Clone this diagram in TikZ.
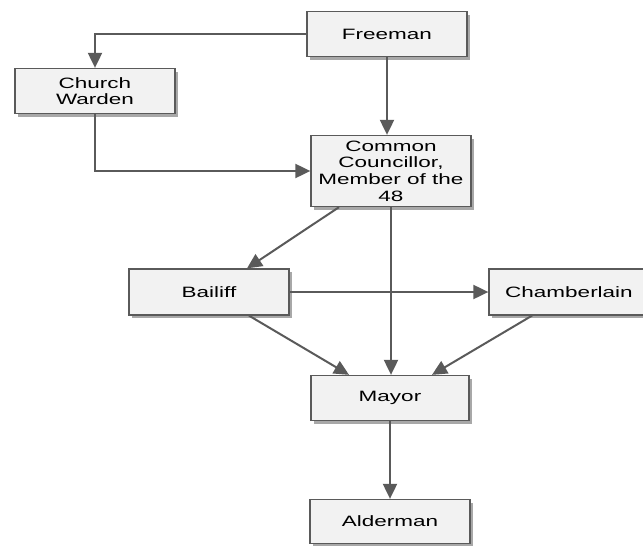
\documentclass[tikz,border=0pt]{standalone}
\usepackage{fontspec}
\usetikzlibrary{arrows.meta,shadows}
\newfontfamily\boxfont[FakeStretch=1.5]{Liberation Sans}
\definecolor{boxgray}{HTML}{F2F2F2}
\definecolor{linegray}{HTML}{5A5A5A}
\definecolor{shadegray}{HTML}{A8A8A8}

\begin{document}
\begin{tikzpicture}[x=1pt,y=1pt,
    office/.style={draw=linegray,line width=1.3pt,fill=boxgray,
        minimum width=160pt,minimum height=45pt,inner sep=0pt,align=center,
        font=\boxfont\fontsize{15}{16.7}\selectfont,
        drop shadow={shadow xshift=3pt,shadow yshift=-3pt,fill=shadegray,opacity=1}},
    link/.style={draw=linegray,line width=2pt,-{Triangle[length=15pt,width=14pt]}}]
\useasboundingbox (0,0) rectangle (643,-546);
% Offices
\node[office] (freeman) at (387,-34) {Freeman};
\node[office] (warden) at (95,-91) {Church\\Warden};
\node[office,minimum height=71pt] (council) at (391,-171) {Common\\Councillor,\\Member of the\\48};
\node[office,minimum height=46pt] (bailiff) at (209,-292) {Bailiff};
\node[office,minimum height=46pt] (chamber) at (569,-292) {Chamberlain};
\node[office,minimum width=158pt] (mayor) at (390,-398) {Mayor};
\node[office,minimum height=44pt] (alderman) at (390,-521.5) {Alderman};
% Paths
\draw[link] (freeman.west) -| (warden.north);
\draw[link] (warden.south) |- (council.west);
\foreach \a/\b in {freeman/council,council/mayor,mayor/alderman}
    \draw[link] (\a.south) -- (\a.south |- \b.north);
\draw[link] ([xshift=-52pt]council.south) -- ([xshift=38pt]bailiff.north);
\draw[link] (bailiff.east) -- (chamber.west);
\draw[link] ([xshift=40pt]bailiff.south) -- ([xshift=-41pt]mayor.north);
\draw[link] ([xshift=-37pt]chamber.south) -- ([xshift=42pt]mayor.north);
\end{tikzpicture}
\end{document}
